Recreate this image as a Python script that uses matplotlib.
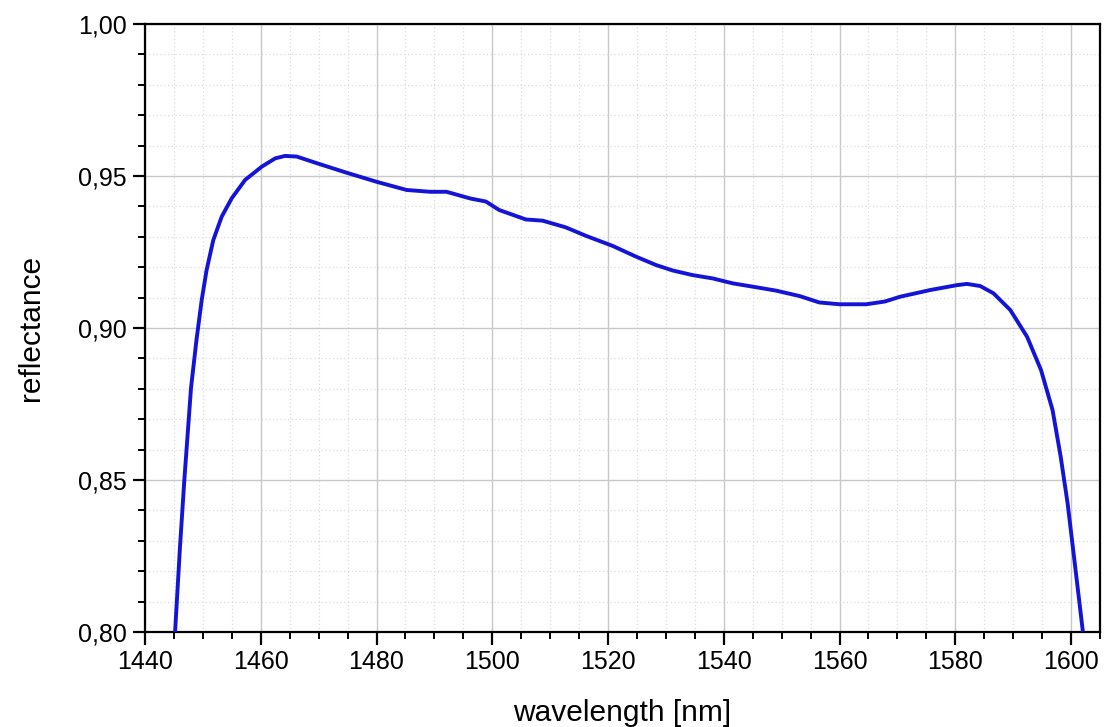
import matplotlib
matplotlib.use("Agg")
import matplotlib.pyplot as plt
from matplotlib.ticker import MultipleLocator, FuncFormatter

# wavelength [nm] and reflectance
wavelength = [1445.2, 1446.05, 1446.8, 1447.95, 1448.9, 1449.8, 1450.65, 1451.8, 1453.25,
              1455.0, 1457.3, 1460.2, 1462.5, 1464.2, 1466.2, 1469.7, 1474.8, 1480.0,
              1485.2, 1489.3, 1492.1, 1496.2, 1498.9, 1501.2, 1505.8, 1508.7, 1512.7,
              1516.2, 1520.8, 1524.8, 1528.3, 1531.2, 1534.6, 1538.1, 1541.5, 1545.6,
              1549.0, 1553.1, 1556.5, 1560.0, 1564.6, 1567.8, 1570.5, 1575.7, 1580.3,
              1582.0, 1584.3, 1586.6, 1589.5, 1592.4, 1594.8, 1596.8, 1598.2, 1599.4,
              1600.5, 1602.0]
reflectance = [0.800, 0.828, 0.850, 0.8802, 0.8961, 0.9092, 0.9191, 0.9289, 0.9366,
               0.9427, 0.9487, 0.9531, 0.9558, 0.9566, 0.9564, 0.9542, 0.9511, 0.9481,
               0.9454, 0.9448, 0.9448, 0.9426, 0.9416, 0.9388, 0.9357, 0.9353, 0.9331,
               0.9303, 0.9270, 0.9235, 0.9207, 0.9189, 0.9174, 0.9163, 0.9147, 0.9134,
               0.9123, 0.9105, 0.9084, 0.9078, 0.9078, 0.9087, 0.9103, 0.9125, 0.9141,
               0.9145, 0.9138, 0.9114, 0.9059, 0.8971, 0.8862, 0.8730, 0.8577, 0.8423,
               0.8248, 0.8007]

plt.rcParams["font.family"] = ["Liberation Sans", "DejaVu Sans"]

fig = plt.figure(figsize=(11.05, 7.27), dpi=100)
ax = fig.add_axes([0.1312, 0.1307, 0.8643, 0.8363])

ax.plot(wavelength, reflectance, color="#1414d8", lw=2.8, solid_joinstyle="round", zorder=3)

ax.set_xlim(1440, 1605)
ax.set_ylim(0.80, 1.00)
ax.xaxis.set_major_locator(MultipleLocator(20))
ax.xaxis.set_minor_locator(MultipleLocator(5))
ax.yaxis.set_major_locator(MultipleLocator(0.05))
ax.yaxis.set_minor_locator(MultipleLocator(0.01))
ax.yaxis.set_major_formatter(FuncFormatter(lambda v, p: f"{v:.2f}".replace(".", ",")))

ax.grid(which="major", color="#c8c8c8", lw=1.0, ls="-")
ax.grid(which="minor", color="#dcdcdc", lw=0.9, ls=(0, (1, 2)))
ax.set_axisbelow(True)

for s in ax.spines.values():
    s.set_linewidth(1.6)
ax.tick_params(which="major", direction="out", length=9, width=1.6, labelsize=18,
               top=False, right=False, pad=4)
ax.tick_params(which="minor", direction="out", length=5, width=1.4, top=False, right=False)

ax.set_xlabel("wavelength [nm]", fontsize=21.5, labelpad=18)
ax.set_ylabel("reflectance", fontsize=21.5, labelpad=24)

fig.savefig("out.png", dpi=100)
